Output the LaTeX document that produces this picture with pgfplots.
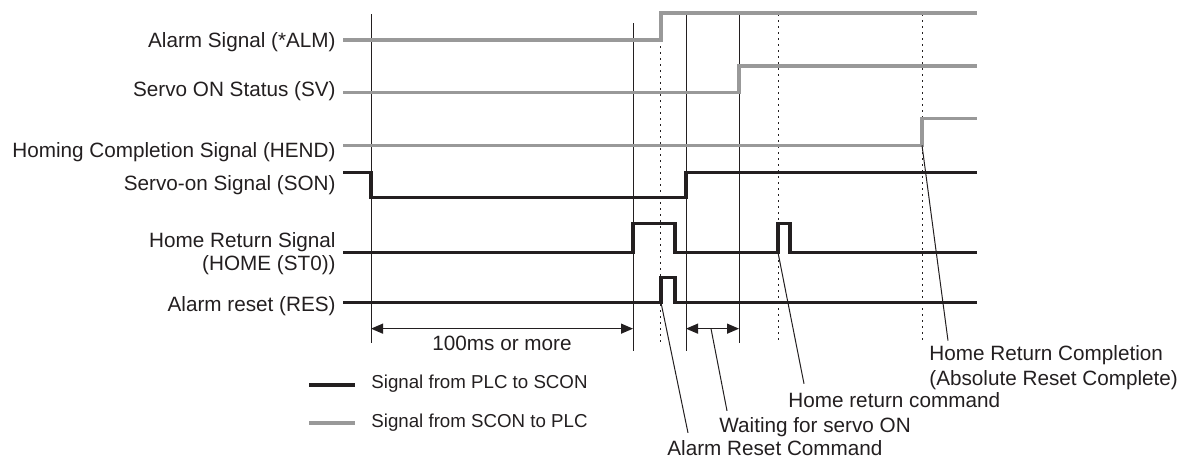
\documentclass[border=0pt]{standalone}
\usepackage{fontspec}
\setmainfont{Liberation Sans}
\usepackage{pgfplots}
\pgfplotsset{compat=1.18}
\usetikzlibrary{arrows.meta}
\definecolor{sig}{HTML}{231F20}
\definecolor{stat}{HTML}{999999}
\begin{document}
\begin{tikzpicture}
\begin{axis}[width=593.5pt,height=228.5pt,scale only axis,
  xmin=0,xmax=1187,ymin=0,ymax=457,y dir=reverse,hide axis,clip=false,no marks,
  every axis plot/.append style={line join=miter,line cap=butt}]
\path (axis cs:0,0) rectangle (axis cs:1187,457);
% timing reference lines
\addplot[sig,line width=0.5pt] coordinates {(371,14)(371,342)};
\addplot[sig,line width=0.5pt] coordinates {(633,23)(633,350)};
\addplot[sig,line width=0.5pt] coordinates {(686,14)(686,350)};
\addplot[sig,line width=0.5pt] coordinates {(739,14)(739,342)};
\addplot[sig,line width=0.9pt,dash pattern=on 1.2pt off 1.8pt] coordinates {(660.5,40)(660.5,342)};
\addplot[sig,line width=0.9pt,dash pattern=on 1.2pt off 1.8pt] coordinates {(778.5,14)(778.5,342)};
\addplot[sig,line width=0.9pt,dash pattern=on 1.2pt off 1.8pt] coordinates {(922.5,14)(922.5,342)};
% signals from SCON to PLC
\addplot[stat,line width=1.65pt] coordinates {(343,40)(661,40)(661,13)(977,13)};
\addplot[stat,line width=1.65pt] coordinates {(343,92)(739,92)(739,66)(977,66)};
\addplot[stat,line width=1.65pt] coordinates {(343,145)(922,145)(922,118)(977,118)};
% signals from PLC to SCON
\addplot[sig,line width=1.75pt] coordinates {(343,172)(371,172)(371,197)(686,197)(686,172)(977,172)};
\addplot[sig,line width=1.75pt] coordinates {(343,252)(633,252)(633,223)(675,223)(675,252)(778,252)(778,223)(790,223)(790,252)(977,252)};
\addplot[sig,line width=1.75pt] coordinates {(343,302)(661,302)(661,277)(675,277)(675,302)(977,302)};
% legend
\addplot[sig,line width=2pt] coordinates {(309,384)(355,384)};
\addplot[stat,line width=2pt] coordinates {(309,422)(355,422)};
% dimension arrows
\draw[sig,line width=0.6pt,{Triangle[length=6pt,width=5pt]}-{Triangle[length=6pt,width=5pt]}] (axis cs:371,328) -- (axis cs:633,328);
\draw[sig,line width=0.6pt,{Triangle[length=6pt,width=5pt]}-{Triangle[length=6pt,width=5pt]}] (axis cs:686,328) -- (axis cs:739,328);
% leader lines
\draw[sig,line width=0.5pt] (axis cs:922,145) -- (axis cs:948,340);
\draw[sig,line width=0.5pt] (axis cs:778,252) -- (axis cs:804,383);
\draw[sig,line width=0.5pt] (axis cs:711,328) -- (axis cs:727,410);
\draw[sig,line width=0.5pt] (axis cs:661,302) -- (axis cs:688,432);
% signal labels
\begin{scope}[every node/.style={inner sep=0pt,text=sig,font=\fontsize{10.35}{12}\selectfont}]
\node[anchor=base east] at (axis cs:336,47.5) {Alarm Signal (*ALM)};
\node[anchor=base east] at (axis cs:336,96.7) {Servo ON Status (SV)};
\node[anchor=base east] at (axis cs:336,157) {Homing Completion Signal (HEND)};
\node[anchor=base east] at (axis cs:336,190) {Servo-on Signal (SON)};
\node[anchor=base east] at (axis cs:336,246.7) {Home Return Signal};
\node[anchor=base east] at (axis cs:336,269.5) {(HOME (ST0))};
\node[anchor=base east] at (axis cs:336,310.7) {Alarm reset (RES)};
\node[anchor=base] at (axis cs:502,350) {100ms or more};
\node[anchor=base west] at (axis cs:929,360) {Home Return Completion};
\node[anchor=base west] at (axis cs:929,385) {(Absolute Reset Complete)};
\node[anchor=base west] at (axis cs:788,407) {Home return command};
\node[anchor=base west] at (axis cs:719,432) {Waiting for servo ON};
\node[anchor=base west] at (axis cs:667,455) {Alarm Reset Command};
\end{scope}
\begin{scope}[every node/.style={inner sep=0pt,text=sig,font=\fontsize{9.35}{11}\selectfont}]
\node[anchor=base west] at (axis cs:371,388) {Signal from PLC to SCON};
\node[anchor=base west] at (axis cs:371,427) {Signal from SCON to PLC};
\end{scope}
\end{axis}
\end{tikzpicture}
\end{document}
